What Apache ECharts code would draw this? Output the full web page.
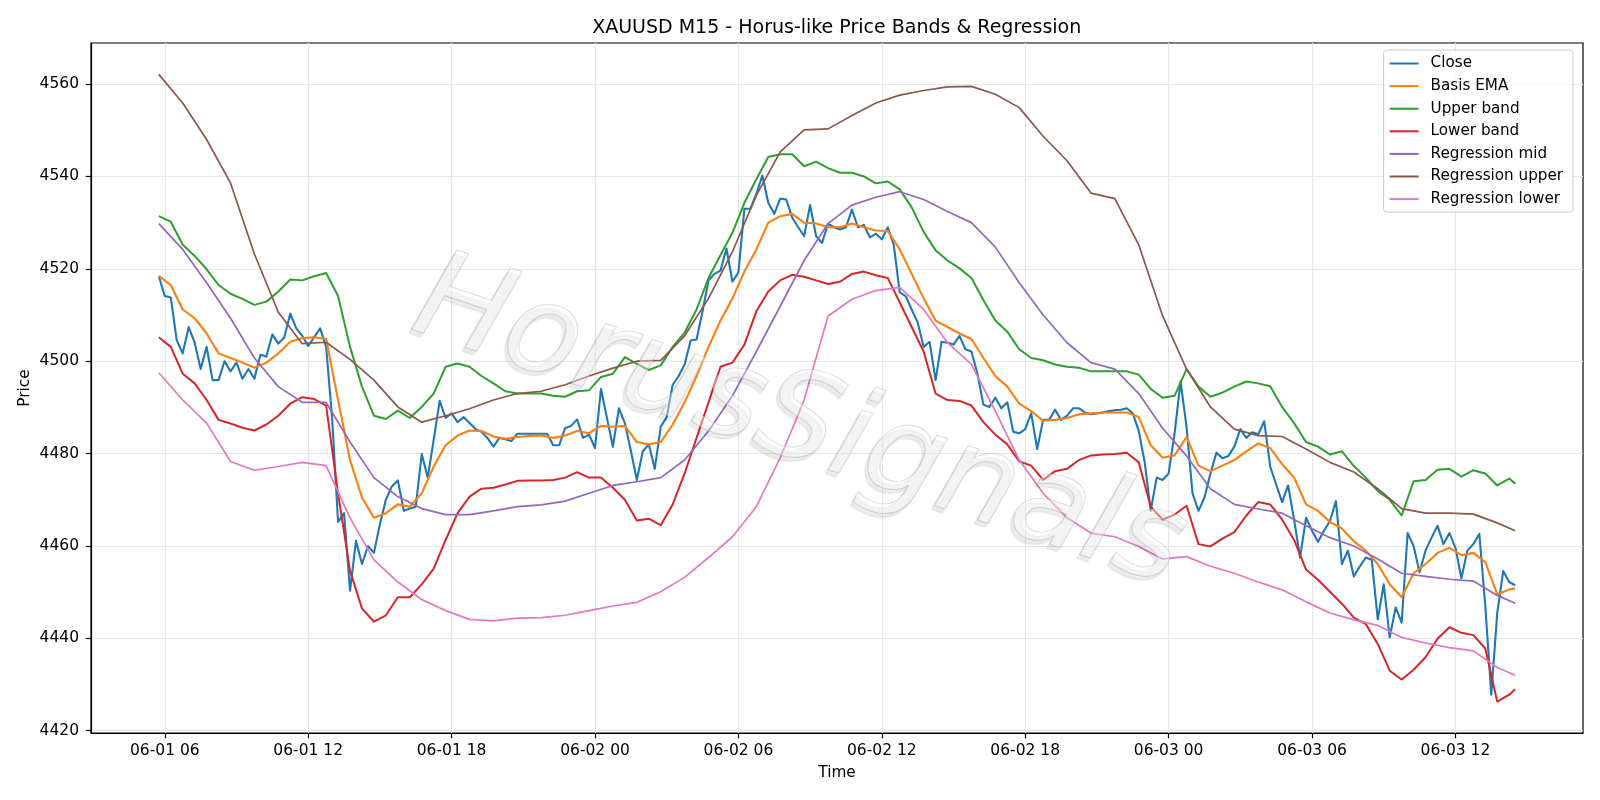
<!DOCTYPE html>
<html>
<head>
<meta charset="utf-8">
<title>XAUUSD M15 - Horus-like Price Bands & Regression</title>
<script src="https://cdn.jsdelivr.net/npm/echarts@6.0.0/dist/echarts.min.js"></script>
<style>
  html, body { margin: 0; padding: 0; background: #ffffff; }
  #chart { width: 1600px; height: 800px; }
</style>
</head>
<body>
<div id="chart"></div>
<script>
// * M15 bars, first bar at 06-01 05:45
const startTime = Date.UTC(2025, 5, 1, 5, 45);
const barMs = 15 * 60 * 1000;

// * Close, one value per bar (228 bars)
const closeValues = [
  4518.4, 4514.1, 4513.8, 4504.5, 4501.7, 4507.4, 4504.0, 4498.3, 4503.1, 4495.9,
  4495.9, 4500.0, 4497.8, 4499.7, 4496.2, 4498.3, 4496.2, 4501.4, 4501.0, 4505.8,
  4503.8, 4505.2, 4510.3, 4507.1, 4505.5, 4503.3, 4505.2, 4507.1, 4503.1, 4487.7,
  4465.2, 4467.1, 4450.3, 4461.1, 4456.1, 4460.0, 4458.5, 4464.7, 4470.0, 4472.9,
  4474.2, 4467.6, 4468.1, 4468.5, 4479.9, 4474.8, 4482.9, 4491.4, 4487.7, 4488.7,
  4486.8, 4487.9, 4486.6, 4485.3, 4484.7, 4483.4, 4481.5, 4483.4, 4483.1, 4482.7,
  4484.3, 4484.3, 4484.3, 4484.3, 4484.3, 4484.3, 4481.8, 4481.8, 4485.5, 4486.0,
  4487.4, 4483.4, 4484.1, 4481.2, 4494.0, 4487.7, 4481.5, 4489.8, 4486.6, 4480.6,
  4474.3, 4480.5, 4482.0, 4476.7, 4485.8, 4487.9, 4494.9, 4496.8, 4499.3, 4504.5,
  4504.7, 4510.8, 4517.5, 4518.9, 4519.6, 4524.4, 4517.2, 4519.2, 4533.0, 4533.0,
  4536.2, 4540.2, 4534.3, 4531.9, 4535.2, 4535.0, 4531.1, 4529.0, 4527.1, 4533.8,
  4527.1, 4525.6, 4529.8, 4529.0, 4528.5, 4529.0, 4532.8, 4529.0, 4529.5, 4526.8,
  4527.6, 4526.4, 4529.0, 4525.2, 4514.9, 4514.1, 4511.2, 4508.4, 4503.1, 4504.2,
  4495.9, 4504.2, 4504.0, 4503.6, 4505.5, 4502.6, 4502.1, 4497.3, 4490.6, 4490.1,
  4492.1, 4489.8, 4491.1, 4484.7, 4484.4, 4485.3, 4488.7, 4481.0, 4487.3, 4487.3,
  4489.5, 4487.3, 4488.2, 4489.8, 4489.8, 4488.9, 4488.5, 4488.7, 4488.9, 4489.2,
  4489.4, 4489.5, 4489.8, 4488.7, 4484.9, 4478.1, 4467.6, 4474.8, 4474.3, 4475.7,
  4484.4, 4495.6, 4485.8, 4471.4, 4467.6, 4470.5, 4475.7, 4480.2, 4479.0, 4479.5,
  4481.5, 4485.3, 4483.4, 4484.6, 4484.2, 4487.0, 4477.2, 4473.3, 4469.5, 4473.1,
  4465.7, 4457.5, 4466.1, 4463.3, 4460.9, 4463.3, 4465.4, 4469.7, 4456.1, 4459.0,
  4453.4, 4455.6, 4457.5, 4457.0, 4444.1, 4451.7, 4440.2, 4446.7, 4443.4, 4462.8,
  4460.0, 4454.3, 4459.0, 4461.8, 4464.4, 4460.4, 4462.8, 4459.6, 4453.0, 4459.0,
  4460.4, 4462.6, 4447.0, 4427.8, 4445.5, 4454.6, 4452.2, 4451.5
];

// * Band lines, read every 2nd bar plus the last bar
const emaValues = [
  4518.4, 4516.5, 4511.2, 4509.3, 4506.0, 4501.7, 4500.7, 4499.7, 4498.6, 4499.7,
  4501.7, 4504.2, 4505.0, 4505.2, 4504.8, 4491.6, 4478.6, 4470.5, 4466.1, 4467.1,
  4469.0, 4468.5, 4471.4, 4477.2, 4481.8, 4483.9, 4485.0, 4484.9, 4483.7, 4483.2,
  4483.6, 4483.8, 4483.9, 4483.4, 4483.9, 4484.9, 4484.4, 4486.0, 4485.8, 4486.0,
  4482.5, 4482.0, 4482.5, 4486.3, 4491.1, 4496.8, 4503.1, 4508.8, 4513.6, 4519.4,
  4524.2, 4530.0, 4531.4, 4531.9, 4530.0, 4529.8, 4529.0, 4529.0, 4529.8, 4529.0,
  4528.3, 4528.2, 4524.2, 4518.9, 4513.6, 4508.8, 4507.4, 4506.0, 4504.8, 4500.7,
  4496.8, 4494.5, 4490.8, 4489.2, 4487.1, 4487.3, 4487.7, 4488.5, 4488.7, 4488.9,
  4488.9, 4488.9, 4487.9, 4481.8, 4479.1, 4479.6, 4483.6, 4477.4, 4476.2, 4477.4,
  4478.6, 4480.5, 4482.2, 4481.2, 4477.7, 4474.8, 4469.0, 4467.6, 4465.2, 4463.8,
  4461.0, 4459.0, 4456.1, 4451.7, 4448.9, 4454.1, 4456.1, 4458.5, 4459.6, 4458.0,
  4458.5, 4456.5, 4449.5, 4450.6, 4450.8
];
const upperValues = [
  4531.4, 4530.2, 4525.2, 4522.8, 4519.9, 4516.5, 4514.6, 4513.5, 4512.2, 4512.9,
  4515.1, 4517.7, 4517.5, 4518.4, 4519.1, 4514.1, 4503.1, 4494.5, 4488.2, 4487.5,
  4489.3, 4487.7, 4490.1, 4493.0, 4498.8, 4499.5, 4498.8, 4496.8, 4495.2, 4493.5,
  4493.0, 4493.0, 4493.0, 4492.5, 4492.3, 4493.5, 4493.7, 4496.6, 4497.3, 4500.9,
  4499.4, 4498.1, 4499.1, 4503.1, 4506.2, 4511.2, 4518.0, 4523.0, 4527.8, 4534.3,
  4539.4, 4544.2, 4544.8, 4544.8, 4542.2, 4543.2, 4541.8, 4540.8, 4540.8, 4540.0,
  4538.5, 4538.9, 4537.2, 4533.3, 4528.0, 4524.0, 4521.8, 4520.1, 4518.0, 4513.2,
  4508.8, 4506.4, 4502.6, 4500.7, 4500.2, 4499.3, 4498.8, 4498.6, 4497.8, 4497.8,
  4497.8, 4497.8, 4497.1, 4494.0, 4492.1, 4492.5, 4498.3, 4494.5, 4492.3, 4493.2,
  4494.5, 4495.6, 4495.2, 4494.6, 4490.1, 4486.6, 4482.5, 4481.5, 4479.8, 4480.5,
  4477.3, 4474.8, 4471.9, 4470.0, 4466.6, 4474.0, 4474.3, 4476.5, 4476.7, 4475.0,
  4476.4, 4475.7, 4473.1, 4474.6, 4473.5
];
const lowerValues = [
  4505.2, 4503.1, 4497.3, 4495.2, 4491.6, 4487.3, 4486.5, 4485.6, 4485.0, 4486.3,
  4488.2, 4490.8, 4492.2, 4491.8, 4490.4, 4471.4, 4454.6, 4446.5, 4443.6, 4445.0,
  4448.9, 4448.9, 4451.7, 4455.1, 4461.3, 4467.1, 4470.7, 4472.4, 4472.6, 4473.3,
  4474.1, 4474.2, 4474.2, 4474.3, 4474.8, 4476.0, 4474.8, 4474.8, 4472.6, 4470.0,
  4465.5, 4465.9, 4464.5, 4469.0, 4475.7, 4483.4, 4491.1, 4498.8, 4499.7, 4503.6,
  4510.8, 4515.1, 4517.5, 4518.7, 4518.3, 4517.5, 4516.7, 4517.2, 4518.9, 4519.4,
  4518.6, 4518.0, 4512.7, 4507.4, 4502.1, 4493.0, 4491.6, 4491.4, 4490.4, 4486.8,
  4484.1, 4482.0, 4478.3, 4477.4, 4474.3, 4476.2, 4476.7, 4478.6, 4479.6, 4479.8,
  4479.9, 4480.2, 4478.1, 4468.5, 4465.7, 4466.8, 4468.7, 4460.4, 4459.9, 4461.6,
  4463.0, 4466.6, 4469.5, 4469.0, 4465.7, 4461.3, 4454.9, 4452.7, 4450.1, 4447.5,
  4444.5, 4443.1, 4438.8, 4433.0, 4431.1, 4433.2, 4435.9, 4439.9, 4442.4, 4441.2,
  4440.7, 4437.8, 4426.3, 4427.8, 4429.0
];

// * Regression lines, read every 4th bar plus the last bar
const regMidValues = [
  4529.8, 4524.2, 4517.0, 4509.3, 4500.7, 4494.5, 4491.1, 4491.1, 4482.5, 4474.8,
  4470.7, 4468.1, 4466.8, 4466.8, 4467.6, 4468.5, 4468.9, 4469.7, 4471.4, 4473.1,
  4473.9, 4474.8, 4478.6, 4484.9, 4492.5, 4502.1, 4511.9, 4521.8, 4529.8, 4533.8,
  4535.5, 4536.7, 4535.0, 4532.4, 4530.0, 4524.7, 4517.0, 4510.0, 4504.0, 4499.7,
  4498.3, 4493.0, 4485.5, 4479.5, 4472.4, 4469.0, 4468.0, 4467.1, 4464.4, 4461.8,
  4460.0, 4457.2, 4454.1, 4453.4, 4452.8, 4452.4, 4449.3, 4447.6
];
const regUpperValues = [
  4562.1, 4555.9, 4548.0, 4538.6, 4523.2, 4510.6, 4503.8, 4504.1, 4500.4, 4495.9,
  4490.1, 4486.8, 4488.2, 4489.7, 4491.6, 4493.0, 4493.5, 4494.9, 4496.8, 4498.5,
  4500.0, 4500.2, 4505.5, 4513.6, 4523.7, 4535.9, 4545.3, 4550.1, 4550.3, 4553.2,
  4555.9, 4557.6, 4558.6, 4559.4, 4559.5, 4557.8, 4554.9, 4548.7, 4543.4, 4536.4,
  4535.2, 4525.2, 4509.8, 4498.3, 4490.1, 4485.3, 4483.9, 4483.7, 4481.0, 4478.1,
  4476.0, 4472.4, 4468.1, 4467.1, 4467.1, 4466.9, 4465.0, 4463.3
];
const regLowerValues = [
  4497.5, 4491.6, 4486.6, 4478.3, 4476.4, 4477.2, 4478.1, 4477.4, 4466.1, 4457.0,
  4452.2, 4448.4, 4446.0, 4444.1, 4443.8, 4444.4, 4444.5, 4445.0, 4446.0, 4447.0,
  4447.8, 4450.1, 4453.2, 4457.5, 4462.0, 4468.5, 4479.1, 4491.6, 4509.8, 4513.4,
  4515.3, 4516.0, 4511.2, 4504.0, 4499.3, 4489.2, 4478.6, 4471.4, 4466.1, 4462.8,
  4462.0, 4459.9, 4457.2, 4457.7, 4455.6, 4454.1, 4452.2, 4450.5, 4447.9, 4445.5,
  4444.0, 4442.8, 4440.2, 4439.0, 4438.0, 4437.3, 4433.7, 4432.0
];

// * Tick labels
const xTickLabels = [
  "06-01 06", "06-01 12", "06-01 18", "06-02 00", "06-02 06",
  "06-02 12", "06-02 18", "06-03 00", "06-03 06", "06-03 12"
];
const yTickValues = [4420, 4440, 4460, 4480, 4500, 4520, 4540, 4560];

// ? Bar indices for each sampling
const closeBars = closeValues.map((_, i) => i);
const bandBars = [];
for (let i = 0; i <= 226; i += 2) bandBars.push(i);
bandBars.push(227);
const regBars = [];
for (let i = 0; i <= 224; i += 4) regBars.push(i);
regBars.push(227);

// * Tick label -> timestamp
function labelToTime(label) {
  const [md, hh] = label.split(" ");
  const [mm, dd] = md.split("-").map(Number);
  return Date.UTC(2025, mm - 1, dd, Number(hh));
}
const xTickTimes = xTickLabels.map(labelToTime);
const xLabelByTime = {};
xTickTimes.forEach((t, k) => { xLabelByTime[t] = xTickLabels[k]; });

// ! Matplotlib-like 5% data margins
const firstTime = startTime;
const lastTime = startTime + (closeValues.length - 1) * barMs;
const xPad = (lastTime - firstTime) * 0.05;
const allValues = [].concat(closeValues, emaValues, upperValues, lowerValues,
  regMidValues, regUpperValues, regLowerValues);
const dataMin = Math.min(...allValues);
const dataMax = Math.max(...allValues);
const yPad = (dataMax - dataMin) * 0.05;

const fontFamily = "'DejaVu Sans', sans-serif";

function lineSeries(name, bars, values, color, width) {
  return {
    name: name,
    type: "line",
    symbol: "none",
    data: bars.map((b, k) => [startTime + b * barMs, values[k]]),
    lineStyle: { color: color, width: width, join: "round" },
    itemStyle: { color: color },
    emphasis: { disabled: true },
  };
}

const myChart = echarts.init(document.getElementById("chart"), null, { renderer: "canvas" });

const option = {
  animation: false,
  backgroundColor: "#ffffff",
  grid: {
    left: 91,
    right: 17,
    top: 43,
    bottom: 67,
    show: true,
    borderColor: "#000000",
    borderWidth: 1.2,
    backgroundColor: "transparent",
  },
  legend: {
    data: ["Close", "Basis EMA", "Upper band", "Lower band", "Regression mid", "Regression upper", "Regression lower"],
    orient: "vertical",
    right: 27,
    top: 50,
    icon: "rect",
    itemWidth: 29,
    itemHeight: 2,
    itemGap: 6.6,
    padding: [5.5, 10, 5, 6],
    backgroundColor: "rgba(255,255,255,0.8)",
    borderColor: "#cccccc",
    borderWidth: 1,
    borderRadius: 3,
    textStyle: {
      fontFamily: fontFamily,
      fontSize: 15.2,
      color: "#000000",
      lineHeight: 16,
      padding: [0, 0, 0, 7],
    },
  },
  xAxis: {
    type: "value",
    min: firstTime - xPad,
    max: lastTime + xPad,
    name: "Time",
    nameLocation: "middle",
    nameGap: 33,
    nameTextStyle: { fontFamily: fontFamily, fontSize: 15.3, color: "#000000" },
    axisLine: { show: true, lineStyle: { color: "#000000", width: 1.2 } },
    axisTick: {
      show: true,
      inside: false,
      length: 5.3,
      lineStyle: { color: "#000000", width: 1.2 },
      customValues: xTickTimes,
    },
    axisLabel: {
      customValues: xTickTimes,
      margin: 10,
      fontFamily: fontFamily,
      fontSize: 15.5,
      color: "#000000",
      formatter: (v) => xLabelByTime[v] || "",
    },
    splitLine: { show: true, lineStyle: { color: "#e6e6e6", width: 1.2 } },
  },
  yAxis: {
    type: "value",
    min: dataMin - yPad,
    max: dataMax + yPad,
    name: "Price",
    nameLocation: "middle",
    nameGap: 58,
    nameMoveOverlap: false,
    nameTextStyle: { fontFamily: fontFamily, fontSize: 15.3, color: "#000000" },
    axisLine: { show: true, lineStyle: { color: "#000000", width: 1.2 } },
    axisTick: {
      show: true,
      inside: false,
      length: 5.3,
      lineStyle: { color: "#000000", width: 1.2 },
      customValues: yTickValues,
    },
    axisLabel: {
      customValues: yTickValues,
      margin: 12,
      fontFamily: fontFamily,
      fontSize: 15.5,
      color: "#000000",
      formatter: (v) => String(Math.round(v)),
    },
    splitLine: { show: true, lineStyle: { color: "#e6e6e6", width: 1.2 } },
  },
  series: [
    lineSeries("Close", closeBars, closeValues, "#1f77b4", 2.1),
    lineSeries("Basis EMA", bandBars, emaValues, "#ff7f0e", 2.1),
    lineSeries("Upper band", bandBars, upperValues, "#2ca02c", 2.0),
    lineSeries("Lower band", bandBars, lowerValues, "#d62728", 2.0),
    lineSeries("Regression mid", regBars, regMidValues, "#9467bd", 1.7),
    lineSeries("Regression upper", regBars, regUpperValues, "#8c564b", 1.7),
    lineSeries("Regression lower", regBars, regLowerValues, "#e377c2", 1.7),
  ],
  graphic: [
    {
      // * Title centred over the plot area
      type: "text",
      x: 836.7,
      y: 28,
      silent: true,
      style: {
        text: "XAUUSD M15 - Horus-like Price Bands & Regression",
        font: "19px 'DejaVu Sans', sans-serif",
        fill: "#000000",
        align: "center",
        verticalAlign: "middle",
        textAlign: "center",
        textVerticalAlign: "middle",
      },
    },
    {
      // * Watermark, faint outline with a soft shadow
      type: "text",
      x: 799,
      y: 426,
      rotation: -0.325,
      z: 100,
      silent: true,
      style: {
        text: "HorusSignals",
        font: "italic 123px 'DejaVu Sans', sans-serif",
        fill: "rgba(255,255,255,0.4)",
        stroke: "rgba(170,170,170,0.5)",
        lineWidth: 1,
        align: "center",
        verticalAlign: "middle",
        textAlign: "center",
        textVerticalAlign: "middle",
        textShadowColor: "rgba(0,0,0,0.2)",
        textShadowBlur: 1.5,
        textShadowOffsetX: -3,
        textShadowOffsetY: 4,
        shadowColor: "rgba(0,0,0,0.2)",
        shadowBlur: 1.5,
        shadowOffsetX: -3,
        shadowOffsetY: 4,
      },
    },
  ],
};

myChart.setOption(option);
</script>
</body>
</html>
